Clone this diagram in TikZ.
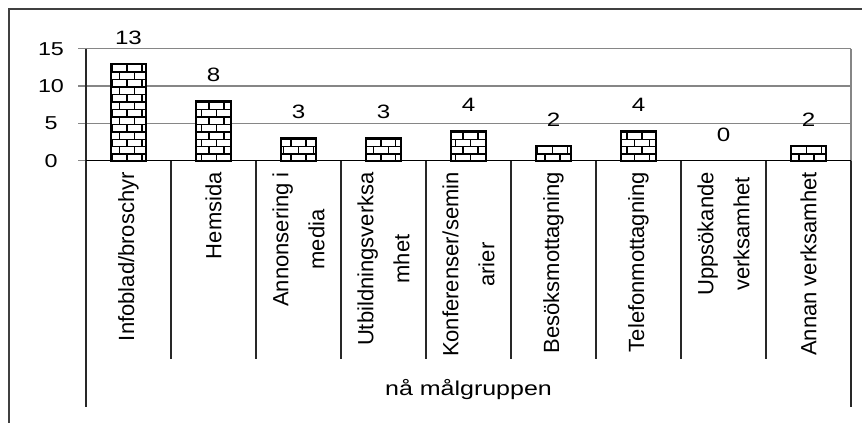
\documentclass[tikz,border=0pt]{standalone}
\usepackage{fontspec}
\setmainfont{Liberation Sans}
\usepackage{graphicx}
\usepackage{tikz}
\usetikzlibrary{patterns}
\definecolor{gridgrey}{RGB}{134, 134, 134}
\definecolor{framegrey}{RGB}{64, 64, 64}
\definecolor{axisgrey}{RGB}{40, 40, 40}

% brick fill of the bars
\pgfdeclarepatternformonly{wallbricks}{\pgfqpoint{-1pt}{-1pt}}{\pgfqpoint{12.2pt}{12.2pt}}{\pgfqpoint{11.2pt}{11.2pt}}{
  \pgfsetlinewidth{1.1pt}
  \pgfpathmoveto{\pgfqpoint{0pt}{0pt}}\pgfpathlineto{\pgfqpoint{11.2pt}{0pt}}
  \pgfpathmoveto{\pgfqpoint{0pt}{5.6pt}}\pgfpathlineto{\pgfqpoint{11.2pt}{5.6pt}}
  \pgfpathmoveto{\pgfqpoint{0pt}{0pt}}\pgfpathlineto{\pgfqpoint{0pt}{5.6pt}}
  \pgfpathmoveto{\pgfqpoint{5.6pt}{5.6pt}}\pgfpathlineto{\pgfqpoint{5.6pt}{11.2pt}}
  \pgfusepath{stroke}
}
\newcommand{\widetext}[1]{\scalebox{1.25}[1]{#1}}

\begin{document}
\begin{tikzpicture}[x=0.75pt, y=-0.75pt]
  \clip (0, 0) rectangle (862, 423);
  \draw[framegrey, line width=1.5pt] (9, 9) rectangle (880, 440);

  % grid and y ticks
  \foreach \v in {0, 5, 10, 15} {
    \draw[gridgrey, line width=1.1pt] (78, {160.7-7.467*\v}) -- (851, {160.7-7.467*\v});
    \node[font=\fontsize{14}{16}\selectfont] (tick\v) at (51, {160.7-7.467*\v}) {\widetext{\v}};
  }
  \draw[axisgrey, line width=1.1pt] (86, 48.7) -- (86, 407);
  \draw[gridgrey, line width=1.1pt] (851, 48.7) -- (851, 160.7);
  \draw[axisgrey, line width=0.9pt] (851, 160.7) -- (851, 407);
  \draw[black, line width=1.1pt] (86, 160.7) -- (851, 160.7);
  \foreach \i in {1, ..., 8}
    \draw[axisgrey, line width=0.9pt] ({86+85*\i}, 160.7) -- ({86+85*\i}, 359);

  % bars, values and categories
  \foreach \i/\v/\lab in {0/13/{Infoblad/broschyr}, 1/8/Hemsida, 2/3/{Annonsering i\\media},
      3/3/{Utbildningsverksa\\mhet}, 4/4/{Konferenser/semin\\arier}, 5/2/Besöksmottagning,
      6/4/Telefonmottagning, 7/0/{Uppsökande\\verksamhet}, 8/2/{Annan verksamhet}} {
    \ifnum\v>0
      \draw[line width=1.6pt, pattern=wallbricks, preaction={fill=white}]
        ({128.5+85*\i-17.5}, 160.7) rectangle ({128.5+85*\i+17.5}, {160.7-7.467*\v});
    \fi
    \node[font=\fontsize{14.5}{16}\selectfont] (val\i) at ({128.5+85*\i}, {160.7-7.467*\v-26}) {\widetext{\v}};
    \node[rotate=90, anchor=east, align=center, inner sep=0pt,
      font=\fontsize{16.5}{27}\selectfont] (cat\i) at ({128.5+85*\i}, 172) {\lab};
  }

  \node[font=\fontsize{15}{18}\selectfont] (axtitle) at (468.5, 390) {\widetext{nå målgruppen}};
\end{tikzpicture}
\end{document}
